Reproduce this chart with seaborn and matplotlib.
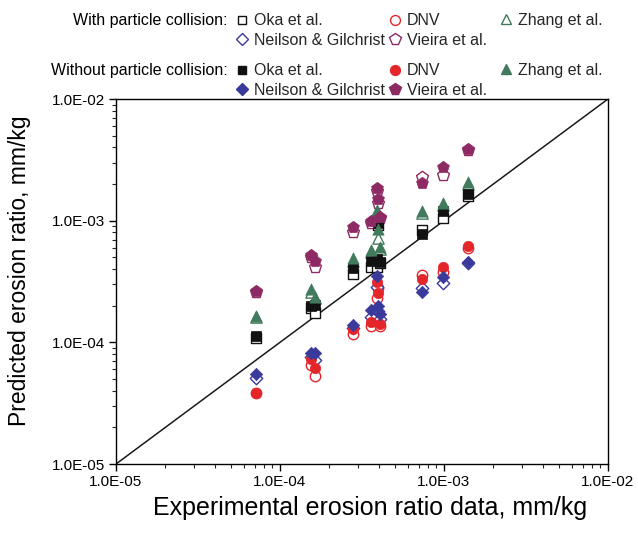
import numpy as np
import pandas as pd
import matplotlib
matplotlib.use("Agg")
import matplotlib.pyplot as plt
from matplotlib.lines import Line2D
from matplotlib.ticker import FuncFormatter, LogLocator
import seaborn as sns

sns.set_theme(style="white")
plt.rcParams['font.family'] = ['Liberation Sans', 'DejaVu Sans']

# Experimental erosion ratio data (mm/kg)
exp_x = [7.1e-5, 1.55e-4, 1.63e-4, 2.77e-4, 3.57e-4, 3.9e-4, 3.96e-4, 4.05e-4, 7.3e-4, 9.8e-4, 1.40e-3]

# With particle collision (open markers)
oka_w      = [1.09e-4, 1.90e-4, 1.75e-4, 3.63e-4, 4.19e-4, 4.19e-4, 9.2e-4, 4.5e-4, 8.4e-4, 1.05e-3, 1.60e-3]
dnv_w      = [3.8e-5, 6.5e-5, 5.3e-5, 1.17e-4, 1.35e-4, 2.32e-4, 2.8e-4, 1.35e-4, 3.58e-4, 3.81e-4, 6.0e-4]
zhang_w    = [1.6e-4, 2.6e-4, 2.3e-4, 4.7e-4, 5.5e-4, 1.15e-3, 7.2e-4, 5.8e-4, 1.15e-3, 1.35e-3, 2.0e-3]
neilson_w  = [5.1e-5, 7.6e-5, 7.2e-5, 1.30e-4, 1.60e-4, 2.84e-4, 1.80e-4, 1.55e-4, 2.80e-4, 3.06e-4, 4.5e-4]
vieira_w   = [2.6e-4, 5.0e-4, 4.17e-4, 8.12e-4, 9.5e-4, 1.75e-3, 1.39e-3, 1.05e-3, 2.30e-3, 2.37e-3, 3.8e-3]

# Without particle collision (filled markers)
oka_wo     = [1.13e-4, 1.99e-4, 2.03e-4, 4.06e-4, 4.69e-4, 4.82e-4, 9.58e-4, 4.6e-4, 7.7e-4, 1.19e-3, 1.66e-3]
dnv_wo     = [3.86e-5, 7.3e-5, 6.2e-5, 1.28e-4, 1.48e-4, 3.15e-4, 2.53e-4, 1.42e-4, 3.32e-4, 4.19e-4, 6.23e-4]
zhang_wo   = [1.66e-4, 2.73e-4, 2.37e-4, 4.91e-4, 5.74e-4, 1.22e-3, 8.55e-4, 6.04e-4, 1.19e-3, 1.41e-3, 2.09e-3]
neilson_wo = [5.5e-5, 8.1e-5, 8.2e-5, 1.40e-4, 1.85e-4, 3.51e-4, 1.98e-4, 1.71e-4, 2.60e-4, 3.47e-4, 4.55e-4]
vieira_wo  = [2.66e-4, 5.22e-4, 4.66e-4, 8.93e-4, 1.0e-3, 1.85e-3, 1.50e-3, 1.08e-3, 2.05e-3, 2.78e-3, 3.86e-3]

model_names = ["Oka et al.", "DNV", "Zhang et al.", "Neilson & Gilchrist", "Vieira et al."]
group_labels = ["With particle collision:", "Without particle collision:"]
axis_limits = [1e-5, 1e-2]

colors = {"Oka et al.": "#111111", "DNV": "#E4262B", "Zhang et al.": "#417A5C",
          "Neilson & Gilchrist": "#3A3A9C", "Vieira et al.": "#8E2A63"}
markers = {"Oka et al.": "s", "DNV": "o", "Zhang et al.": "^",
           "Neilson & Gilchrist": "D", "Vieira et al.": "p"}
sizes = {"Oka et al.": 46, "DNV": 56, "Zhang et al.": 66,
         "Neilson & Gilchrist": 40, "Vieira et al.": 80}

with_vals = dict(zip(model_names, [oka_w, dnv_w, zhang_w, neilson_w, vieira_w]))
without_vals = dict(zip(model_names, [oka_wo, dnv_wo, zhang_wo, neilson_wo, vieira_wo]))

fig = plt.figure(figsize=(6.38, 5.35), dpi=100)
ax = fig.add_axes([116/638, 1-464/535, (608-116)/638, (464-99)/535])

ax.plot(axis_limits, axis_limits, color="#1a1a1a", lw=1.1, zorder=1)

for name in model_names:
    df = pd.DataFrame({"x": exp_x, "y": with_vals[name]})
    sns.scatterplot(data=df, x="x", y="y", ax=ax, marker=markers[name], s=sizes[name],
                    facecolor="white", edgecolor=colors[name], linewidth=1.0, zorder=2)
for name in model_names:
    df = pd.DataFrame({"x": exp_x, "y": without_vals[name]})
    sns.scatterplot(data=df, x="x", y="y", ax=ax, marker=markers[name], s=sizes[name],
                    color=colors[name], edgecolor=colors[name], linewidth=0.5, zorder=3)

ax.set_xscale("log")
ax.set_yscale("log")
ax.set_xlim(axis_limits)
ax.set_ylim(axis_limits)
fmt = FuncFormatter(lambda v, p: f"{v:.1E}")
for a in (ax.xaxis, ax.yaxis):
    a.set_major_locator(LogLocator(base=10, numticks=10))
    a.set_minor_locator(LogLocator(base=10, subs=np.arange(2, 10), numticks=20))
    a.set_major_formatter(fmt)
ax.tick_params(which="major", direction="out", length=5, width=1, labelsize=11,
               bottom=True, left=True, colors="black", pad=3)
ax.tick_params(which="minor", direction="out", length=3, width=0.8, bottom=True, left=True)
for sp in ax.spines.values():
    sp.set_color("black")
    sp.set_linewidth(1.0)
ax.set_xlabel("Experimental erosion ratio data, mm/kg", fontsize=18, color="black")
ax.set_ylabel("Predicted erosion ratio, mm/kg", fontsize=16.5, color="black")
ax.xaxis.set_label_coords(0.516, -0.088)
ax.yaxis.set_label_coords(-0.172, 0.53)

# Legend
fs = 11.5
def handle(name, filled):
    return Line2D([], [], linestyle="none", marker=markers[name],
                  markersize=np.sqrt(sizes[name]) * 0.95,
                  markerfacecolor=colors[name] if filled else "white",
                  markeredgecolor=colors[name], markeredgewidth=1.0)

columns = [["Oka et al.", "Neilson & Gilchrist"], ["DNV", "Vieira et al."], ["Zhang et al."]]
col_marker_px = [242, 395, 506]
row_top_px = [20, 70]
row_gap = 21
for gi, filled in enumerate([False, True]):
    fig.text(228/638, 1 - row_top_px[gi]/535, group_labels[gi], ha="right", va="center",
             fontsize=fs, color="black")
    for ci, col in enumerate(columns):
        hs = [handle(n, filled) for n in col]
        center_py = row_top_px[gi] + row_gap * (len(col) - 1) / 2
        leg = fig.legend(hs, col, loc="center left",
                         bbox_to_anchor=((col_marker_px[ci] - 8)/638, 1 - center_py/535),
                         frameon=False, fontsize=fs, handlelength=1.0, handletextpad=0.25,
                         borderpad=0, borderaxespad=0, labelspacing=0.28)

fig.savefig("out.png", dpi=100)
